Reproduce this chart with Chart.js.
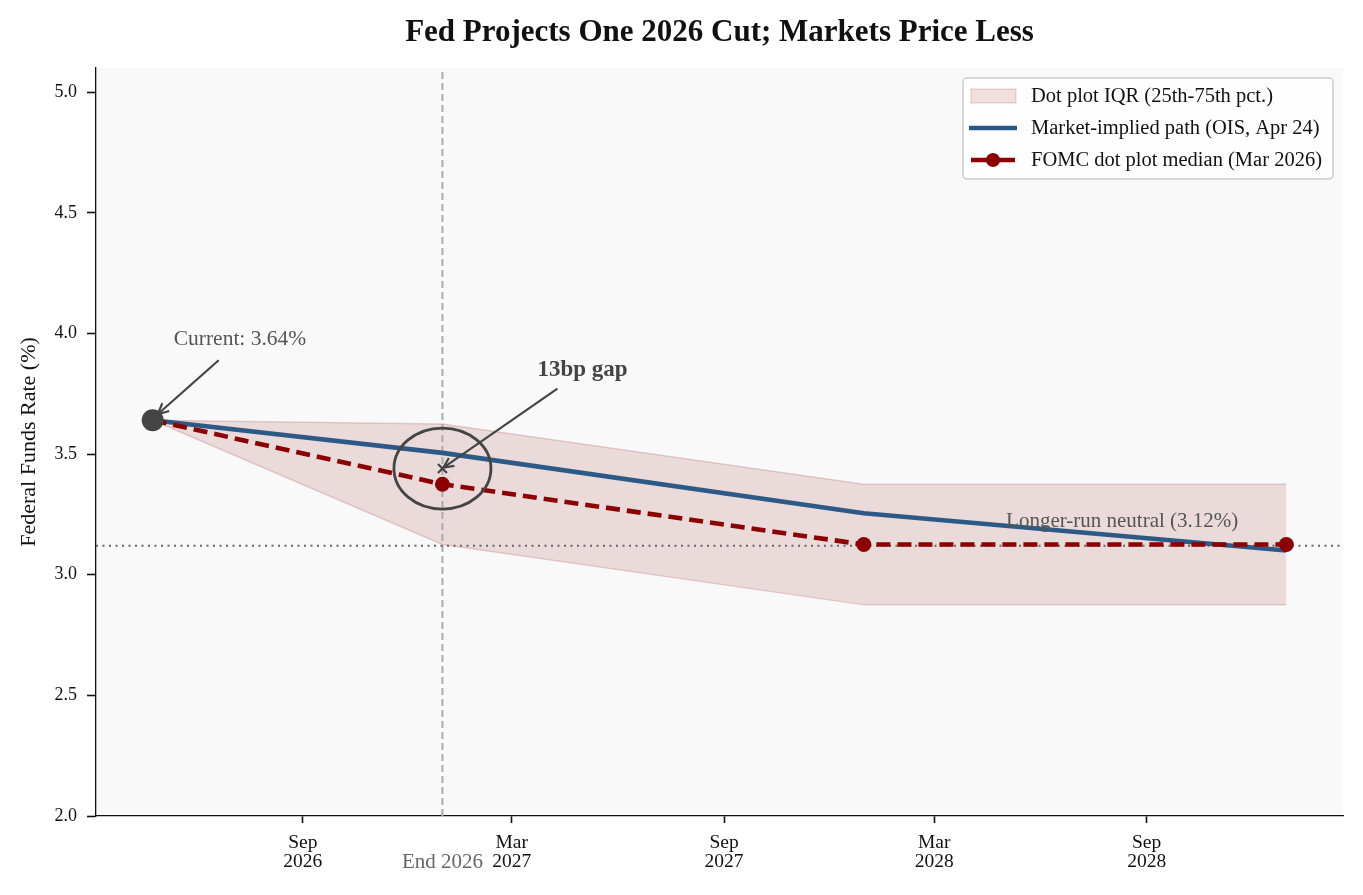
<!DOCTYPE html>
<html>
<head>
<meta charset="utf-8">
<script src="https://cdn.jsdelivr.net/npm/chart.js@4.4.1/dist/chart.umd.min.js"></script>
<style>
html,body{margin:0;padding:0;background:#fff;}
#wrap{width:1363px;height:895px;}
</style>
</head>
<body>
<div id="wrap"><canvas id="c" width="1363" height="895"></canvas></div>
<script>
// ---- data ----
const DATES = ['2026-04-24', '2026-12-31', '2027-12-31', '2028-12-31'];
const MARKET_PATH = [3.64, 3.505, 3.255, 3.10];
const DOT_MEDIAN = [3.64, 3.375, 3.125, 3.125];
const IQR_LOW = [3.64, 3.125, 2.875, 2.875];
const IQR_HIGH = [3.64, 3.625, 3.375, 3.375];
const CURRENT_RATE = 3.64;
const NEUTRAL_RATE = 3.12;
const END_2026 = '2026-12-31';
const X_TICK_DATES = ['2026-09-01', '2027-03-01', '2027-09-01', '2028-03-01', '2028-09-01'];
const X_TICK_LABELS = [['Sep', '2026'], ['Mar', '2027'], ['Sep', '2027'], ['Mar', '2028'], ['Sep', '2028']];
const Y_TICKS = [2.0, 2.5, 3.0, 3.5, 4.0, 4.5, 5.0];
const Y_MIN = 2.0, Y_MAX = 5.1;
const TITLE = 'Fed Projects One 2026 Cut; Markets Price Less';
const Y_TITLE = 'Federal Funds Rate (%)';
const LEGEND_LABELS = ['Dot plot IQR (25th-75th pct.)', 'Market-implied path (OIS, Apr 24)', 'FOMC dot plot median (Mar 2026)'];

// ---- helpers ----
const t = s => Date.parse(s + 'T00:00:00Z');
const X = DATES.map(t);
const span = X[X.length - 1] - X[0];
const X_MIN = X[0] - span * 0.05, X_MAX = X[X.length - 1] + span * 0.05;
const pts = arr => arr.map((v, i) => ({x: X[i], y: v}));

const FONT = "'Liberation Serif', 'Times New Roman', serif";
Chart.defaults.font.family = FONT;
Chart.defaults.color = '#111';

const BLUE = '#2d5986';
const RED = '#8b0000';
const DARK = '#444444';

function arrow(ctx, x1, y1, x2, y2, head) {
  ctx.beginPath(); ctx.moveTo(x1, y1); ctx.lineTo(x2, y2); ctx.stroke();
  const a = Math.atan2(y2 - y1, x2 - x1);
  ctx.beginPath();
  ctx.moveTo(x2 - head * Math.cos(a - 0.45), y2 - head * Math.sin(a - 0.45));
  ctx.lineTo(x2, y2);
  ctx.lineTo(x2 - head * Math.cos(a + 0.45), y2 - head * Math.sin(a + 0.45));
  ctx.stroke();
}

const decor = {
  id: 'decor',
  beforeDraw(chart) {
    const {ctx, chartArea: a} = chart;
    ctx.save();
    ctx.fillStyle = '#f9f9f9';
    ctx.fillRect(a.left, a.top, a.right - a.left, a.bottom - a.top);
    ctx.restore();
  },
  afterDatasetsDraw(chart) {
    const {ctx, scales: {x, y}} = chart;
    ctx.save();
    // ellipse around end-2026 gap
    const ex = x.getPixelForValue(t(END_2026));
    const mid = (MARKET_PATH[1] + DOT_MEDIAN[1]) / 2;
    const ey = y.getPixelForValue(mid);
    ctx.strokeStyle = DARK; ctx.lineWidth = 2.8;
    ctx.beginPath(); ctx.ellipse(ex, ey, 48.5, 40.5, 0, 0, Math.PI * 2); ctx.stroke();
    // gap arrow
    ctx.lineWidth = 2.2; ctx.strokeStyle = DARK;
    arrow(ctx, ex + 115, ey - 80, ex + 1, ey - 1, 11);
    ctx.beginPath();
    ctx.moveTo(ex - 4.5, ey - 4.5); ctx.lineTo(ex + 4.5, ey + 4.5);
    ctx.moveTo(ex + 4.5, ey - 4.5); ctx.lineTo(ex - 4.5, ey + 4.5);
    ctx.stroke();
    ctx.fillStyle = DARK; ctx.font = 'bold 23px ' + FONT;
    ctx.textAlign = 'center'; ctx.textBaseline = 'middle';
    ctx.fillText('13bp gap', ex + 140, ey - 98);
    // current annotation
    const cx = x.getPixelForValue(X[0]), cy = y.getPixelForValue(CURRENT_RATE);
    ctx.lineWidth = 2.2;
    arrow(ctx, cx + 66, cy - 60, cx + 5, cy - 6, 12);
    ctx.fillStyle = '#555'; ctx.font = '21.5px ' + FONT;
    ctx.textAlign = 'left';
    ctx.fillText('Current: 3.64%', cx + 21, cy - 81);
    // neutral label
    const nx = x.getPixelForValue(X[X.length - 1]);
    const ny = y.getPixelForValue(NEUTRAL_RATE);
    ctx.font = '21px ' + FONT;
    ctx.textAlign = 'right';
    ctx.fillText('Longer-run neutral (3.12%)', nx - 48, ny - 24);
    // legend
    const lx = 963, ly = 78, lw = 370, lh = 101;
    ctx.fillStyle = 'rgba(255,255,255,0.8)';
    ctx.strokeStyle = '#cccccc'; ctx.lineWidth = 1.5;
    ctx.beginPath(); ctx.roundRect(lx, ly, lw, lh, 4); ctx.fill(); ctx.stroke();
    const rows = [96, 128, 160];
    ctx.fillStyle = 'rgba(139,0,0,0.12)'; ctx.strokeStyle = 'rgba(139,0,0,0.18)'; ctx.lineWidth = 1;
    ctx.fillRect(971, rows[0] - 7, 45, 14); ctx.strokeRect(971, rows[0] - 7, 45, 14);
    ctx.strokeStyle = BLUE; ctx.lineWidth = 4.5;
    ctx.beginPath(); ctx.moveTo(969, rows[1]); ctx.lineTo(1017, rows[1]); ctx.stroke();
    ctx.strokeStyle = RED; ctx.lineWidth = 4.5;
    ctx.beginPath(); ctx.moveTo(971, rows[2]); ctx.lineTo(1015, rows[2]); ctx.stroke();
    ctx.fillStyle = RED; ctx.beginPath(); ctx.arc(993, rows[2], 7, 0, Math.PI * 2); ctx.fill();
    ctx.fillStyle = '#111'; ctx.font = '20.5px ' + FONT; ctx.textAlign = 'left'; ctx.textBaseline = 'middle';
    LEGEND_LABELS.forEach((s, i) => ctx.fillText(s, 1031, rows[i] + 1));
    ctx.restore();
  },
  afterDraw(chart) {
    const {ctx, chartArea: a, scales: {x}} = chart;
    ctx.save();
    ctx.fillStyle = '#111'; ctx.font = 'bold 31px ' + FONT;
    ctx.textAlign = 'center'; ctx.textBaseline = 'middle';
    ctx.fillText(TITLE, (a.left + a.right) / 2, 33);
    ctx.fillStyle = '#666'; ctx.font = '21px ' + FONT;
    ctx.fillText('End 2026', x.getPixelForValue(t(END_2026)), 862);
    ctx.restore();
  }
};

new Chart(document.getElementById('c'), {
  type: 'line',
  data: {
    datasets: [
      {label: 'iqr_high', data: pts(IQR_HIGH), fill: '+1', backgroundColor: 'rgba(139,0,0,0.12)',
       borderColor: 'rgba(139,0,0,0.16)', borderWidth: 1.5, pointRadius: 0, order: 10},
      {label: 'iqr_low', data: pts(IQR_LOW), fill: false,
       borderColor: 'rgba(139,0,0,0.16)', borderWidth: 1.5, pointRadius: 0, order: 9},
      {label: 'end2026', data: [{x: t(END_2026), y: Y_MIN}, {x: t(END_2026), y: Y_MAX}],
       borderColor: '#aaaaaa', borderWidth: 2, borderDash: [7, 4], pointRadius: 0, order: 8},
      {label: 'neutral', data: [{x: X_MIN, y: NEUTRAL_RATE}, {x: X_MAX, y: NEUTRAL_RATE}],
       borderColor: '#666666', borderWidth: 2.2, borderDash: [2, 4.5], pointRadius: 0, order: 7},
      {label: 'market', data: pts(MARKET_PATH), borderColor: BLUE, borderWidth: 4.6,
       pointRadius: 0, fill: false, order: 6},
      {label: 'median', data: pts(DOT_MEDIAN), borderColor: RED, borderWidth: 4.6, borderDash: [14, 7],
       pointRadius: DOT_MEDIAN.map((v, i) => i === 0 ? 0 : 7.5), pointBackgroundColor: RED,
       pointBorderWidth: 0, fill: false, order: 5},
      {label: 'current', data: [{x: X[0], y: CURRENT_RATE}], showLine: false,
       pointRadius: 11, pointBackgroundColor: DARK, pointBorderWidth: 0, order: 1}
    ]
  },
  options: {
    responsive: false, animation: false, devicePixelRatio: 1,
    layout: {padding: {top: 68, right: 20, left: 0, bottom: 0}},
    plugins: {legend: {display: false}, tooltip: {enabled: false}, title: {display: false}},
    scales: {
      x: {
        type: 'linear', min: X_MIN, max: X_MAX,
        afterBuildTicks: s => { s.ticks = X_TICK_DATES.map(d => ({value: t(d)})); },
        afterFit: s => { s.height = 79; },
        ticks: {callback: (v, i) => X_TICK_LABELS[i], font: {size: 19.5, lineHeight: 1.0}, color: '#111', padding: 10, maxRotation: 0},
        grid: {drawOnChartArea: false, drawTicks: true, tickLength: 7, color: '#111', tickWidth: 1.6},
        border: {display: true, color: '#111', width: 1.3}
      },
      y: {
        min: Y_MIN, max: Y_MAX,
        afterBuildTicks: s => { s.ticks = Y_TICKS.map(v => ({value: v})); },
        afterFit: s => { s.width = 96; },
        ticks: {callback: v => v.toFixed(1), font: {size: 18}, color: '#111', padding: 10},
        grid: {drawOnChartArea: false, drawTicks: true, tickLength: 9, color: '#111', tickWidth: 1.6},
        border: {display: true, color: '#111', width: 1.3},
        title: {display: true, text: Y_TITLE, font: {size: 22}, color: '#111', padding: {top: 16, bottom: 0}}
      }
    }
  },
  plugins: [decor]
});
</script>
</body>
</html>
